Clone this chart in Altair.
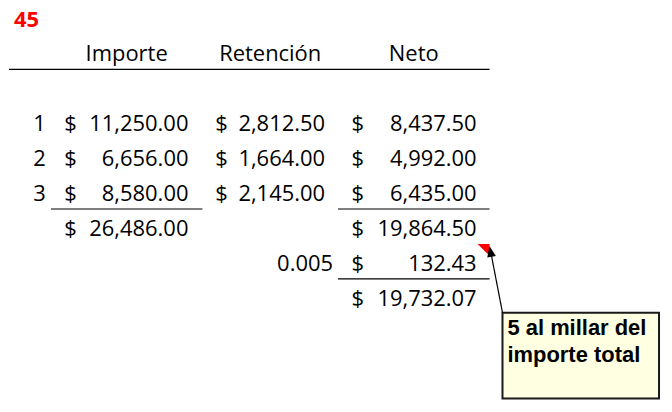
import pandas as pd
import altair as alt

# ---- values ----
EXERCISE      = "45"
HEADERS       = ["Importe", "Retención", "Neto"]
ROW_LABELS    = ["1", "2", "3"]
IMPORTE       = [11250.00, 6656.00, 8580.00]
RETENCION     = [2812.50, 1664.00, 2145.00]
NETO          = [8437.50, 4992.00, 6435.00]
TOTAL_IMPORTE = 26486.00
TOTAL_NETO    = 19864.50
FACTOR        = 0.005
DESCUENTO     = 132.43
NETO_FINAL    = 19732.07
NOTE_LINES    = ["5 al millar del", "importe total"]

# ---- layout (page pixels) ----
W, H, M   = 672, 412, 8
FONT      = "Open Sans"
NOTE_FONT = "Liberation Sans"
SIZE      = 22


def row_y(r):
    # baseline of spreadsheet row r
    return 26 + 35 * r


def line_y(r):
    # bottom border of spreadsheet row r
    return row_y(r) + 8


def money(v):
    return f"{v:,.2f}"


# column anchors: sign left edge, amount right edge, header centre
COL = {
    "Importe":   {"sign": 62.5,  "right": 187, "head": 125},
    "Retención": {"sign": 214,   "right": 324, "head": 269},
    "Neto":      {"sign": 350.5, "right": 476, "head": 413},
}
LABEL_RIGHT  = 44
FACTOR_RIGHT = 332

left, right, centre = [], [], []
centre += [{"t": h, "x": COL[h]["head"], "y": row_y(1)} for h in HEADERS]
for i, lab in enumerate(ROW_LABELS):
    r = 3 + i
    right.append({"t": lab, "x": LABEL_RIGHT, "y": row_y(r)})
    for name, vals in zip(HEADERS, [IMPORTE, RETENCION, NETO]):
        left.append({"t": "$", "x": COL[name]["sign"], "y": row_y(r)})
        right.append({"t": money(vals[i]), "x": COL[name]["right"], "y": row_y(r)})
for name, val, r in [("Importe", TOTAL_IMPORTE, 6), ("Neto", TOTAL_NETO, 6),
                     ("Neto", DESCUENTO, 7), ("Neto", NETO_FINAL, 8)]:
    left.append({"t": "$", "x": COL[name]["sign"], "y": row_y(r)})
    right.append({"t": money(val), "x": COL[name]["right"], "y": row_y(r)})
right.append({"t": str(FACTOR), "x": FACTOR_RIGHT, "y": row_y(7)})

rules = pd.DataFrame([
    {"x": 7,   "x2": 489, "y": line_y(1)},
    {"x": 49,  "x2": 201, "y": line_y(5)},
    {"x": 337, "x2": 489, "y": line_y(5)},
    {"x": 337, "x2": 489, "y": line_y(7)},
])

X = alt.X("x:Q", scale=alt.Scale(domain=[M, W - M], nice=False, zero=False), axis=None)
Y = alt.Y("y:Q", scale=alt.Scale(domain=[M, H - M], nice=False, zero=False, reverse=True), axis=None)


def texts(rows, align, font=FONT, size=SIZE, weight="normal", color="#000000"):
    return alt.Chart(pd.DataFrame(rows)).mark_text(
        align=align, baseline="alphabetic", font=font, fontSize=size,
        fontWeight=weight, color=color
    ).encode(x=X, y=Y, text="t:N")


title = texts([{"t": EXERCISE, "x": 12, "y": row_y(0)}], "left", weight="bold", color="#FF0000")

lines = alt.Chart(rules).mark_rule(color="#000000", strokeWidth=1.2).encode(x=X, x2="x2:Q", y=Y)

# comment box
box = alt.Chart(pd.DataFrame([{"x": 502, "x2": 659, "y": 313, "y2": 399}])).mark_rect(
    fill="#FFFFE1", stroke="#1a1a1a", strokeWidth=2
).encode(x=X, x2="x2:Q", y=Y, y2="y2:Q")
note = texts([{"t": NOTE_LINES[0], "x": 507, "y": 335},
              {"t": NOTE_LINES[1], "x": 507, "y": 362}],
             "left", font=NOTE_FONT, size=22, weight="bold")

flag = alt.Chart(pd.DataFrame([{"x": 483, "y": 250}])).mark_point(
    shape="M -1 -1 L 1 -1 L 1 1 Z", filled=True, color="#FF0000", size=144, opacity=1, strokeWidth=0
).encode(x=X, y=Y)
pointer = alt.Chart(pd.DataFrame([{"x": 490, "x2": 502, "y": 251, "y2": 313}])).mark_rule(
    color="#000000", strokeWidth=1.2
).encode(x=X, x2="x2:Q", y=Y, y2="y2:Q")
head = alt.Chart(pd.DataFrame([{"x": 490, "y": 251.5}])).mark_point(
    shape="M 0 -1 L 0.8 1 L -0.8 1 Z", filled=True, color="#000000", size=121, angle=349,
    opacity=1, strokeWidth=0
).encode(x=X, y=Y)

chart = alt.layer(
    lines, box, note, title,
    texts(centre, "center"), texts(left, "left"), texts(right, "right"),
    flag, pointer, head,
).properties(width=W - 2 * M, height=H - 2 * M, padding=0).configure_view(stroke=None)

chart.save("out.html", embed_options={"renderer": "svg", "actions": False})
